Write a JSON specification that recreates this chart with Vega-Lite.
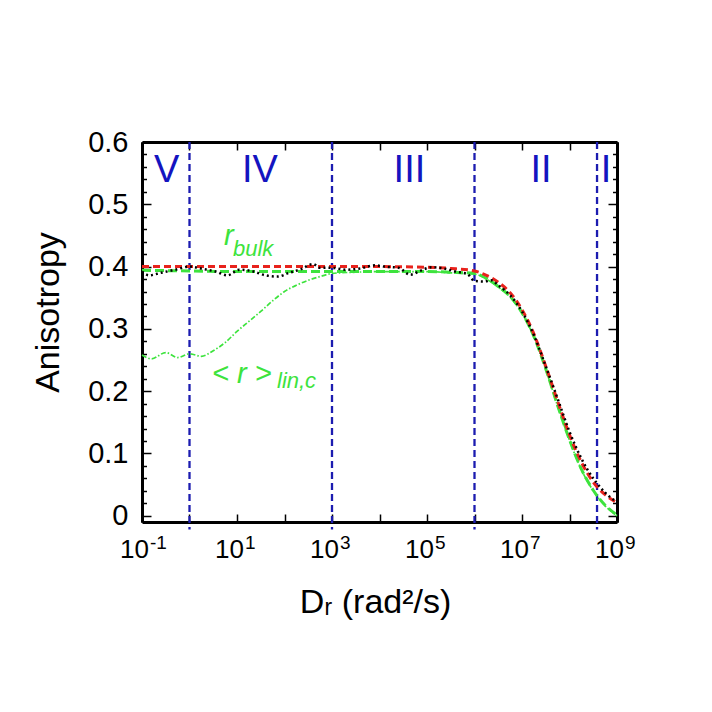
{
  "$schema": "https://vega.github.io/schema/vega-lite/v6.json",
  "width": 475,
  "height": 380,
  "autosize": {"type": "none"},
  "padding": {"left": 142, "top": 142, "right": 95, "bottom": 190},
  "background": "white",
  "config": {"font": "Liberation Sans", "view": {"stroke": null}, "axis": {"grid": false}},
  "datasets": {
    "red": [
      {"D": 0.1, "r": 0.4}, {"D": 1, "r": 0.4}, {"D": 10, "r": 0.4}, {"D": 100, "r": 0.4}, {"D": 1000, "r": 0.4},
      {"D": 10000, "r": 0.4}, {"D": 100000, "r": 0.399}, {"D": 316228, "r": 0.397}, {"D": 1000000, "r": 0.393},
      {"D": 1778279, "r": 0.386}, {"D": 3162278, "r": 0.375}, {"D": 5623413, "r": 0.358}, {"D": 10000000, "r": 0.331},
      {"D": 17782794, "r": 0.292}, {"D": 31622777, "r": 0.24}, {"D": 56234133, "r": 0.184}, {"D": 100000000, "r": 0.13},
      {"D": 177827941, "r": 0.086}, {"D": 316227766, "r": 0.054}, {"D": 562341325, "r": 0.034}, {"D": 1000000000, "r": 0.021}
    ],
    "bulk": [
      {"D": 0.1, "r": 0.394}, {"D": 1, "r": 0.393}, {"D": 10, "r": 0.392}, {"D": 100, "r": 0.392}, {"D": 1000, "r": 0.392},
      {"D": 10000, "r": 0.392}, {"D": 100000, "r": 0.392}, {"D": 316228, "r": 0.391}, {"D": 1000000, "r": 0.389},
      {"D": 1778279, "r": 0.381}, {"D": 3162278, "r": 0.368}, {"D": 5623413, "r": 0.352}, {"D": 10000000, "r": 0.326},
      {"D": 17782794, "r": 0.288}, {"D": 31622777, "r": 0.236}, {"D": 56234133, "r": 0.177}, {"D": 100000000, "r": 0.122},
      {"D": 177827941, "r": 0.075}, {"D": 316227766, "r": 0.041}, {"D": 562341325, "r": 0.017}, {"D": 1000000000, "r": 0.001}
    ],
    "sim": [
      {"D": 0.1, "r": 0.392}, {"D": 0.141, "r": 0.386}, {"D": 0.251, "r": 0.39}, {"D": 0.501, "r": 0.395}, {"D": 1, "r": 0.4},
      {"D": 1.995, "r": 0.396}, {"D": 3.55, "r": 0.392}, {"D": 6.31, "r": 0.386}, {"D": 11.2, "r": 0.395}, {"D": 19.95, "r": 0.393},
      {"D": 39.8, "r": 0.386}, {"D": 70.8, "r": 0.384}, {"D": 125.9, "r": 0.39}, {"D": 223.9, "r": 0.396}, {"D": 398, "r": 0.404},
      {"D": 562, "r": 0.398}, {"D": 1000, "r": 0.398}, {"D": 1995, "r": 0.395}, {"D": 3981, "r": 0.397}, {"D": 7943, "r": 0.402},
      {"D": 12589, "r": 0.4}, {"D": 25119, "r": 0.398}, {"D": 44668, "r": 0.387}, {"D": 70795, "r": 0.393}, {"D": 125893, "r": 0.399},
      {"D": 223872, "r": 0.397}, {"D": 398107, "r": 0.392}, {"D": 707946, "r": 0.388}, {"D": 1000000, "r": 0.377},
      {"D": 1584893, "r": 0.376}, {"D": 2238721, "r": 0.378}, {"D": 3162278, "r": 0.37}, {"D": 5623413, "r": 0.354},
      {"D": 10000000, "r": 0.328}, {"D": 17782794, "r": 0.29}, {"D": 31622777, "r": 0.24}, {"D": 56234133, "r": 0.188},
      {"D": 100000000, "r": 0.135}, {"D": 177827941, "r": 0.092}, {"D": 316227766, "r": 0.06}, {"D": 380189396, "r": 0.052},
      {"D": 562341325, "r": 0.037}, {"D": 1000000000, "r": 0.022}
    ],
    "lin": [
      {"D": 0.1, "r": 0.258}, {"D": 0.158, "r": 0.252}, {"D": 0.316, "r": 0.262}, {"D": 0.562, "r": 0.254}, {"D": 1, "r": 0.26},
      {"D": 1.778, "r": 0.256}, {"D": 3.162, "r": 0.265}, {"D": 5.623, "r": 0.278}, {"D": 10, "r": 0.296}, {"D": 17.78, "r": 0.312},
      {"D": 31.62, "r": 0.328}, {"D": 56.23, "r": 0.345}, {"D": 100, "r": 0.36}, {"D": 177.8, "r": 0.37}, {"D": 316.2, "r": 0.378},
      {"D": 562.3, "r": 0.384}, {"D": 1000, "r": 0.389}, {"D": 3162, "r": 0.391}, {"D": 10000, "r": 0.392}, {"D": 100000, "r": 0.392},
      {"D": 316228, "r": 0.39}, {"D": 1000000, "r": 0.388}, {"D": 1778279, "r": 0.38}, {"D": 3162278, "r": 0.367},
      {"D": 5623413, "r": 0.351}, {"D": 10000000, "r": 0.325}, {"D": 17782794, "r": 0.287}, {"D": 31622777, "r": 0.235},
      {"D": 56234133, "r": 0.176}, {"D": 100000000, "r": 0.121}, {"D": 177827941, "r": 0.074}, {"D": 316227766, "r": 0.04},
      {"D": 562341325, "r": 0.016}, {"D": 1000000000, "r": 0.0}
    ],
    "vlines": [{"D": 1}, {"D": 1000}, {"D": 1000000}, {"D": 380000000}],
    "regions": [
      {"label": "V", "D": 0.33}, {"label": "IV", "D": 30.5}, {"label": "III", "D": 42700},
      {"label": "II", "D": 25100000}, {"label": "I", "D": 590000000}
    ],
    "exponents": [
      {"D": 0.1, "e": "-1"}, {"D": 10, "e": "1"}, {"D": 1000, "e": "3"}, {"D": 100000, "e": "5"},
      {"D": 10000000, "e": "7"}, {"D": 1000000000, "e": "9"}
    ]
  },
  "layer": [
    {
      "data": {"name": "red"},
      "mark": {"type": "point", "opacity": 0, "size": 1},
      "encoding": {
        "x": {"field": "D", "type": "quantitative", "scale": {"type": "log", "domain": [0.1, 1000000000], "nice": false},
          "axis": {"orient": "bottom", "values": [0.1, 1, 10, 100, 1000, 10000, 100000, 1000000, 10000000, 100000000, 1000000000],
            "tickSize": -8, "tickWidth": 1.5, "tickColor": "black", "domainWidth": 3, "domainColor": "black",
            "labelExpr": "round(log(datum.value)/LN10) % 2 != 0 ? '10' : ''",
            "labelFontSize": 26, "labelPadding": 22, "labelOffset": -8, "labelColor": "black", "labelFlush": false, "labelOverlap": false,
            "title": "Dᵣ (rad²/s)", "titleFontSize": 34, "titleFontWeight": "normal", "titleColor": "black",
            "titleX": 233, "titleY": 90, "titleBaseline": "alphabetic", "titleAlign": "center"}},
        "y": {"field": "r", "type": "quantitative", "scale": {"domain": [-0.01, 0.6], "zero": false, "nice": false},
          "axis": {"orient": "left", "values": [0, 0.1, 0.2, 0.3, 0.4, 0.5, 0.6], "format": ".1~f",
            "tickSize": -9, "tickWidth": 1.5, "tickColor": "black", "domainWidth": 3, "domainColor": "black",
            "labelFontSize": 29, "labelPadding": 23, "labelColor": "black", "labelFlush": false, "labelOverlap": false,
            "title": "Anisotropy", "titleFontSize": 34, "titleFontWeight": "normal", "titleColor": "black",
            "titleAngle": -90, "titleX": -84, "titleY": 170, "titleBaseline": "alphabetic", "titleAlign": "center"}}
      }
    },
    {
      "data": {"name": "red"},
      "mark": {"type": "point", "opacity": 0, "size": 1},
      "encoding": {
        "x": {"field": "D", "type": "quantitative", "scale": {"type": "log", "domain": [0.1, 1000000000], "nice": false},
          "axis": {"orient": "top", "values": [0.1, 1, 10, 100, 1000, 10000, 100000, 1000000, 10000000, 100000000, 1000000000],
            "tickSize": -8, "tickWidth": 1.5, "tickColor": "black", "domainWidth": 3, "domainColor": "black",
            "labels": false, "title": null}},
        "y": {"field": "r", "type": "quantitative", "scale": {"domain": [-0.01, 0.6], "zero": false, "nice": false},
          "axis": {"orient": "left", "values": [0.02, 0.04, 0.06, 0.08, 0.12, 0.14, 0.16, 0.18, 0.22, 0.24, 0.26, 0.28, 0.32, 0.34, 0.36, 0.38, 0.42, 0.44, 0.46, 0.48, 0.52, 0.54, 0.56, 0.58],
            "tickSize": -4.5, "tickWidth": 1.5, "tickColor": "black", "domainWidth": 3, "domainColor": "black",
            "labels": false, "title": null}}
      }
    },
    {
      "data": {"name": "red"},
      "mark": {"type": "point", "opacity": 0, "size": 1},
      "encoding": {
        "x": {"field": "D", "type": "quantitative", "scale": {"type": "log", "domain": [0.1, 1000000000], "nice": false}, "axis": null},
        "y": {"field": "r", "type": "quantitative", "scale": {"domain": [-0.01, 0.6], "zero": false, "nice": false},
          "axis": {"orient": "right", "values": [0, 0.1, 0.2, 0.3, 0.4, 0.5, 0.6],
            "tickSize": -9, "tickWidth": 1.5, "tickColor": "black", "domainWidth": 3, "domainColor": "black",
            "labels": false, "title": null}}
      }
    },
    {
      "data": {"name": "red"},
      "mark": {"type": "point", "opacity": 0, "size": 1},
      "encoding": {
        "x": {"field": "D", "type": "quantitative", "scale": {"type": "log", "domain": [0.1, 1000000000], "nice": false}, "axis": null},
        "y": {"field": "r", "type": "quantitative", "scale": {"domain": [-0.01, 0.6], "zero": false, "nice": false},
          "axis": {"orient": "right", "values": [0.02, 0.04, 0.06, 0.08, 0.12, 0.14, 0.16, 0.18, 0.22, 0.24, 0.26, 0.28, 0.32, 0.34, 0.36, 0.38, 0.42, 0.44, 0.46, 0.48, 0.52, 0.54, 0.56, 0.58],
            "tickSize": -4.5, "tickWidth": 1.5, "tickColor": "black", "domainWidth": 3, "domainColor": "black",
            "labels": false, "title": null}}
      }
    },
    {
      "data": {"name": "exponents"},
      "mark": {"type": "text", "color": "black", "fontSize": 19, "align": "left", "baseline": "alphabetic", "dx": 8},
      "encoding": {
        "x": {"field": "D", "type": "quantitative", "axis": null},
        "y": {"datum": -0.054, "axis": null},
        "text": {"field": "e"}
      }
    },
    {
      "data": {"name": "vlines"},
      "mark": {"type": "rule", "color": "#1c1cb0", "strokeWidth": 2.3, "strokeDash": [7, 4]},
      "encoding": {
        "x": {"field": "D", "type": "quantitative", "axis": null},
        "y": {"datum": 0.6, "axis": null},
        "y2": {"datum": -0.022}
      }
    },
    {
      "data": {"name": "lin"},
      "mark": {"type": "line", "color": "#3de33d", "strokeWidth": 1.7, "strokeDash": [5, 2, 1.5, 2], "interpolate": "monotone"},
      "encoding": {
        "x": {"field": "D", "type": "quantitative", "axis": null},
        "y": {"field": "r", "type": "quantitative", "axis": null}
      }
    },
    {
      "data": {"name": "bulk"},
      "mark": {"type": "line", "color": "#3de33d", "strokeWidth": 3, "strokeDash": [9, 4], "interpolate": "monotone"},
      "encoding": {
        "x": {"field": "D", "type": "quantitative", "axis": null},
        "y": {"field": "r", "type": "quantitative", "axis": null}
      }
    },
    {
      "data": {"name": "red"},
      "mark": {"type": "line", "color": "#e8221c", "strokeWidth": 3, "strokeDash": [7, 4], "interpolate": "monotone"},
      "encoding": {
        "x": {"field": "D", "type": "quantitative", "axis": null},
        "y": {"field": "r", "type": "quantitative", "axis": null}
      }
    },
    {
      "data": {"name": "sim"},
      "mark": {"type": "line", "color": "black", "strokeWidth": 2.5, "strokeDash": [2, 3], "interpolate": "monotone"},
      "encoding": {
        "x": {"field": "D", "type": "quantitative", "axis": null},
        "y": {"field": "r", "type": "quantitative", "axis": null}
      }
    },
    {
      "data": {"name": "regions"},
      "mark": {"type": "text", "color": "#1414c0", "fontSize": 38, "align": "center", "baseline": "alphabetic"},
      "encoding": {
        "x": {"field": "D", "type": "quantitative", "axis": null},
        "y": {"datum": 0.535, "axis": null},
        "text": {"field": "label"}
      }
    },
    {
      "data": {"values": [
        {"t": "r", "D": 5.32, "r": 0.435, "s": "big"},
        {"t": "bulk", "D": 8.24, "r": 0.417, "s": "small"},
        {"t": "< r >", "D": 2.98, "r": 0.2135, "s": "big"},
        {"t": "lin,c", "D": 69.5, "r": 0.2055, "s": "small"}
      ]},
      "mark": {"type": "text", "color": "#3de33d", "fontStyle": "italic", "align": "left", "baseline": "alphabetic"},
      "encoding": {
        "x": {"field": "D", "type": "quantitative", "axis": null},
        "y": {"field": "r", "type": "quantitative", "axis": null},
        "text": {"field": "t"},
        "size": {"field": "s", "type": "nominal", "scale": {"domain": ["big", "small"], "range": [29, 22]}, "legend": null}
      }
    }
  ],
  "resolve": {"axis": {"x": "independent", "y": "independent"}}
}
